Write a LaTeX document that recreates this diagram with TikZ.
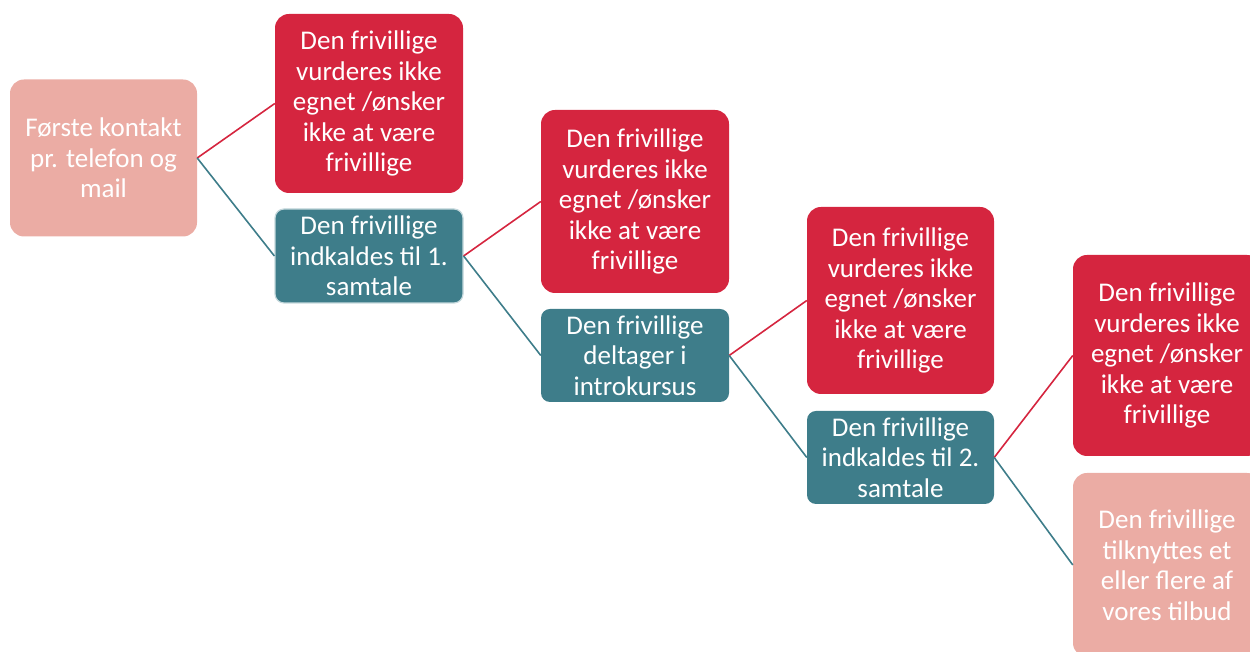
\documentclass[tikz,border=0pt]{standalone}
\usepackage{fontspec}
\setmainfont{Carlito}
\definecolor{cred}{HTML}{D5253F}
\definecolor{cteal}{HTML}{3E7D8A}
\definecolor{cpink}{HTML}{EBACA4}
\tikzset{
  box/.style={rectangle, rounded corners=14pt, text=white, align=center,
    font=\fontsize{27}{30.5}\selectfont, inner sep=0pt, anchor=center},
  redbox/.style={box, fill=cred},
  tealbox/.style={box, fill=cteal, rounded corners=9pt},
  pinkbox/.style={box, fill=cpink},
  redline/.style={draw=cred, line width=1.6pt},
  tealline/.style={draw=cteal, line width=1.6pt}
}
\begin{document}
\begin{tikzpicture}[x=1pt,y=1pt]
\useasboundingbox (0,0) rectangle (1250,652);
\clip (0,0) rectangle (1250,652);
\node[pinkbox, minimum width=187pt, minimum height=157pt] (p1) at (103.5,494) {Første kontakt\\pr. telefon og\\mail};
\node[redbox, minimum width=188pt, minimum height=179pt] (r1) at (369,548.5) {Den frivillige\\vurderes ikke\\egnet /ønsker\\ikke at være\\frivillige};
\node[tealbox, minimum width=188pt, minimum height=94pt, draw=cteal!30!white, line width=1.2pt] (t1) at (369,396) {Den frivillige\\indkaldes til 1.\\samtale};
\node[redbox, minimum width=188pt, minimum height=183pt] (r2) at (635,450.5) {Den frivillige\\vurderes ikke\\egnet /ønsker\\ikke at være\\frivillige};
\node[tealbox, minimum width=188pt, minimum height=93pt] (t2) at (635,296.5) {Den frivillige\\deltager i\\introkursus};
\node[redbox, minimum width=187pt, minimum height=187pt] (r3) at (900.5,351.5) {Den frivillige\\vurderes ikke\\egnet /ønsker\\ikke at være\\frivillige};
\node[tealbox, minimum width=187pt, minimum height=93pt] (t3) at (900.5,194.5) {Den frivillige\\indkaldes til 2.\\samtale};
\node[redbox, minimum width=188pt, minimum height=201pt] (r4) at (1167,296.5) {Den frivillige\\vurderes ikke\\egnet /ønsker\\ikke at være\\frivillige};
\node[pinkbox, minimum width=188pt, minimum height=184pt] (p2) at (1167,87) {Den frivillige\\tilknyttes et\\eller flere af\\vores tilbud};
\draw[redline] (p1.east) -- (r1.west);
\draw[tealline] (p1.east) -- (t1.west);
\draw[redline] (t1.east) -- (r2.west);
\draw[tealline] (t1.east) -- (t2.west);
\draw[redline] (t2.east) -- (r3.west);
\draw[tealline] (t2.east) -- (t3.west);
\draw[redline] (t3.east) -- (r4.west);
\draw[tealline] (t3.east) -- (p2.west);
\end{tikzpicture}
\end{document}
